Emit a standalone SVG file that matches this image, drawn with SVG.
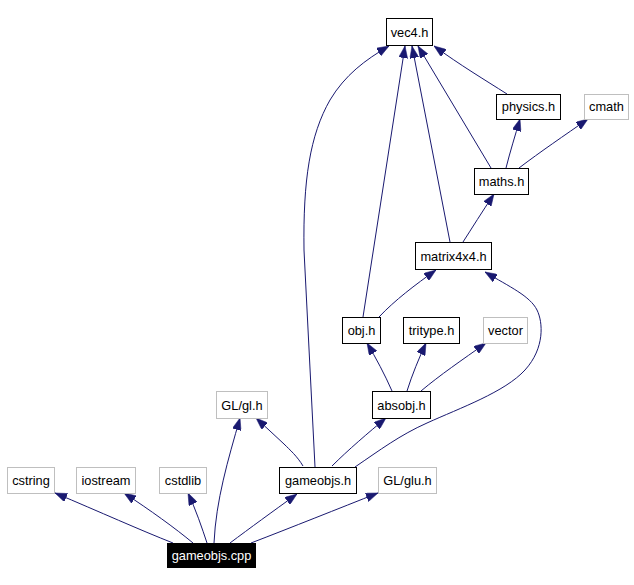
<svg xmlns="http://www.w3.org/2000/svg" width="634" height="585" viewBox="0 0 634 585">
<style>
.n rect{fill:#fff;stroke:#000;stroke-width:1}
.g rect{fill:#fff;stroke:#bfbfbf;stroke-width:1}
.r rect{fill:#000;stroke:#000;stroke-width:1}
text{font-family:"Liberation Sans",Arial,sans-serif;font-size:12.8px;text-anchor:middle;fill:#000}
.r text{fill:#fff}
#edges path{fill:none;stroke:#191970;stroke-width:1;marker-end:url(#ah)}
</style>
<defs>
<marker id="ah" markerUnits="userSpaceOnUse" markerWidth="12" markerHeight="9" refX="12" refY="4.5" orient="auto">
<path d="M0,0 L12,4.5 L0,9 z" fill="#191970" stroke="#191970" stroke-width="0.5"/>
</marker>
</defs>
<rect width="634" height="585" fill="#fff"/>
<g id="edges">
<path d="M173,543 C140,530 100,512 55,493"/>
<path d="M193,543 C175,528 150,510 124,493"/>
<path d="M207,543 C202,528 196,510 188,493"/>
<path d="M214,543 C216,500 228,460 240,418"/>
<path d="M230,543 C250,528 272,512 297,494"/>
<path d="M251,543 C290,528 340,508 378,493"/>
<path d="M303,466 C297,456 290,450 284,444 L256,418"/>
<path d="M315,467 L304,250 C303,180 310,135 330,100 C345,75 365,60 389,46"/>
<path d="M332,466 C348,450 368,433 386,418"/>
<path d="M355,467 C380,450 400,435 427,423 C460,408 505,392 525,370 C545,348 543,322 537,310 C530,296 510,287 485,272"/>
<path d="M392,391 C385,375 376,358 367,343"/>
<path d="M407,391 C412,375 419,358 426,343"/>
<path d="M421,391 C440,375 462,360 486,343"/>
<path d="M363,317 L405,46"/>
<path d="M379,317 C395,300 415,285 436,270"/>
<path d="M450,242 L412,46"/>
<path d="M463,242 C472,228 482,212 494,194"/>
<path d="M491,168 L418,46"/>
<path d="M506,168 C510,152 515,136 520,119"/>
<path d="M519,168 C540,152 565,135 588,119"/>
<path d="M507,94 C485,80 460,65 434,46"/>
</g>
<g id="vec4" class="n"><rect x="386.5" y="18.5" width="46" height="27"/><text x="409.5" y="36.5">vec4.h</text></g>
<g id="physics" class="n"><rect x="496.5" y="94.5" width="64" height="25"/><text x="528.5" y="111">physics.h</text></g>
<g id="cmath" class="g"><rect x="584.5" y="94.5" width="44" height="25"/><text x="606.5" y="111">cmath</text></g>
<g id="maths" class="n"><rect x="474.5" y="168.5" width="54" height="26"/><text x="501.5" y="186">maths.h</text></g>
<g id="matrix4x4" class="n"><rect x="415.5" y="242.5" width="76" height="27"/><text x="453.5" y="260.5">matrix4x4.h</text></g>
<g id="obj" class="n"><rect x="342.5" y="317.5" width="38" height="26"/><text x="361.5" y="335">obj.h</text></g>
<g id="tritype" class="n"><rect x="403.5" y="317.5" width="56" height="26"/><text x="431.5" y="335">tritype.h</text></g>
<g id="vector" class="g"><rect x="483.5" y="317.5" width="44" height="26"/><text x="505.5" y="335">vector</text></g>
<g id="absobj" class="n"><rect x="372.5" y="391.5" width="58" height="27"/><text x="401.5" y="409.5">absobj.h</text></g>
<g id="glgl" class="g"><rect x="216.5" y="391.5" width="51" height="27"/><text x="242" y="409.5">GL/gl.h</text></g>
<g id="cstring" class="g"><rect x="7.5" y="467.5" width="47" height="26"/><text x="31" y="485">cstring</text></g>
<g id="iostream" class="g"><rect x="76.5" y="467.5" width="59" height="26"/><text x="106" y="485">iostream</text></g>
<g id="cstdlib" class="g"><rect x="159.5" y="467.5" width="47" height="26"/><text x="183" y="485">cstdlib</text></g>
<g id="gameobjsh" class="n"><rect x="279.5" y="467.5" width="77" height="26"/><text x="318" y="485">gameobjs.h</text></g>
<g id="glglu" class="g"><rect x="378.5" y="467.5" width="58" height="26"/><text x="407.5" y="485">GL/glu.h</text></g>
<g id="gameobjscpp" class="r"><rect x="167.5" y="543.5" width="88" height="24"/><text x="211.5" y="560">gameobjs.cpp</text></g>
</svg>
